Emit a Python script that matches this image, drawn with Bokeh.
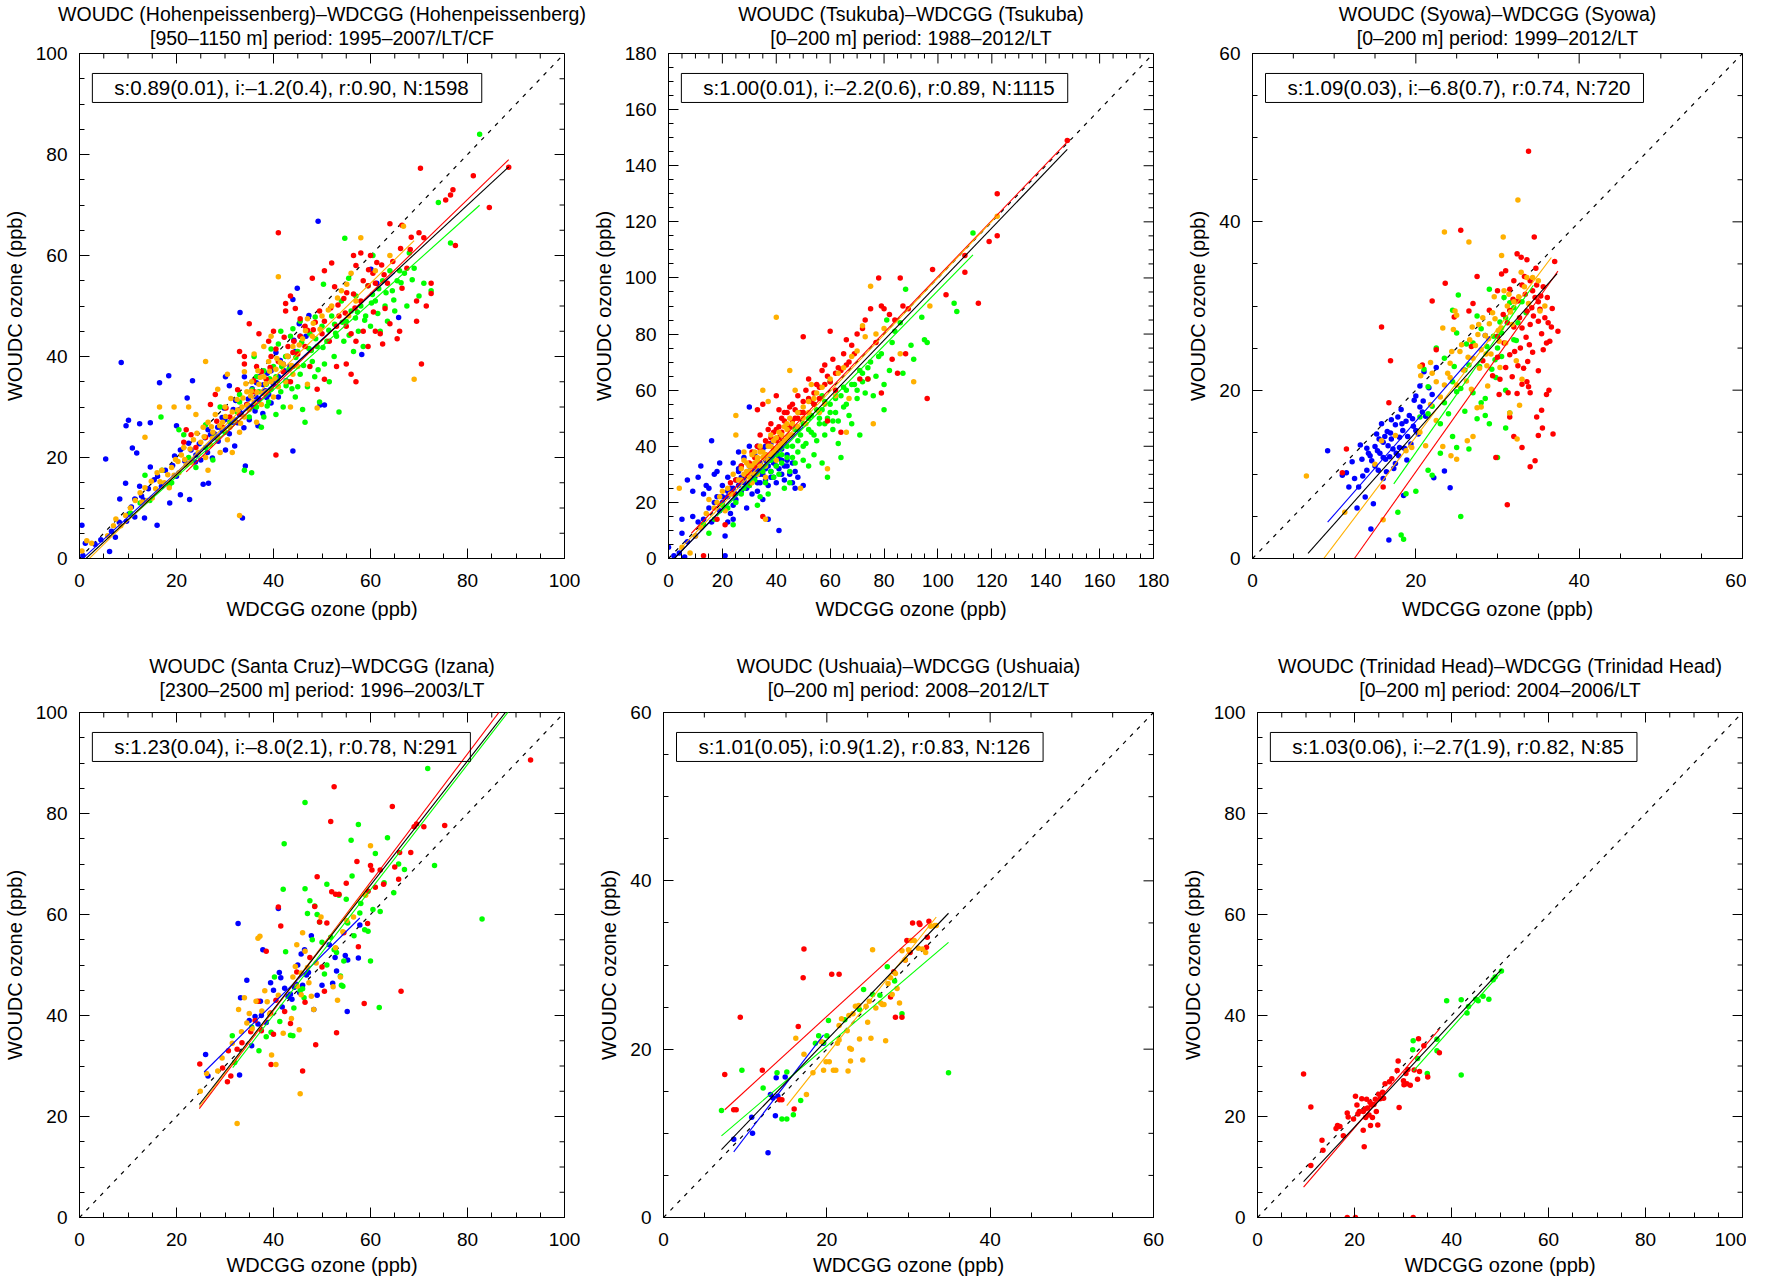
from bokeh.plotting import figure
from bokeh.models import LinearAxis, SingleIntervalTicker, Range1d, Label, Title
from bokeh.layouts import column, row
from bokeh.embed import file_html
from bokeh.resources import INLINE

FONT = "Liberation Sans"
SEASON_COLORS = ["#0000FF", "#00FF00", "#FF0000", "#FFB000"]  # DJF, MAM, JJA, SON

# ---------------- Panel 1: Hohenpeissenberg ----------------
HOH_TITLE = ["WOUDC (Hohenpeissenberg)–WDCGG (Hohenpeissenberg)", "[950–1150 m] period: 1995–2007/LT/CF"]
HOH_STATS = "s:0.89(0.01), i:–1.2(0.4), r:0.90, N:1598"
HOH_LIM = 100
HOH_DJF = [(0.5,6.6),(0.7,0.6),(1.2,3),(5.4,19.7),(8.6,38.8),(10.1,27.4),(9.6,26.3),(12.4,26.7),(14.6,26.9),(10.9,21.9),
           (11.8,20.9),(16.5,34.8),(18.4,36.2),(22.2,31.8),(23.3,35.2),(20,26.3),(33.1,48.7),(49.2,66.8),(44.9,53.5),(44,51.3),
           (33.6,8),(34.2,18.3),(44,21.3),(16,6.6),(6.2,1.4),(7.4,4.2),(9.7,7.4),(11.4,8.2),(13.4,8),(9.5,14.9),
           (8.3,11.8),(12.4,14.3),(14.6,18.1),(18.6,11),(20.8,12.6),(22.7,11.7),(25.5,14.7),(26.6,14.9),(23.9,19.1),(23,21.5),
           (27.4,19.9),(30.1,21.5),(32,22.3),(30.9,24.7),(33.9,25.9),(36.8,26.3),(37.8,28.7),(38.3,33.2),(39.5,37.2),(40.5,40.8),
           (42.2,37.2),(43.4,38),(44.2,43.2),(45.3,46.5),(47.3,48.1),(46.7,44),(49.6,30.4),(50.5,30.4),(58.2,40.4),(60.1,57.3),
           (61.3,54.5),(65.8,47.7),(36.4,32),(34.8,31.6),(39.5,30.8),(41,32),(33.3,28.7),(31.7,29.5),(29.4,27.9),(29.4,25.5),
           (27.8,24.7),(25.9,23.9),(24.7,22.7),(20.8,21.5),(17.7,17.5),(16.1,16.3),(20,16.3),(14.2,13.8),(11.4,11.8),(10.7,10.2),
           (16.9,14.3),(37.9,34.4),(38.7,36.7),(42.6,35.2),(41.4,39.2),(37.1,36),(35.6,33.6),(34,36),(30.1,36),(30.9,34.2),
           (35.2,30.1),(36.2,29.2),(38.6,31.9),(40.2,35.3),(32.6,26.9),(28.6,23.2),(26.4,21),(21.7,19.3),(19.2,18.4),(13.2,11.6),
           (24,20.5),(25,19.5),(27,24.5),(28.5,26),(30,27.5),(31.5,27),(33,29.5),(34.5,30.5),(35,27.5),(36,30),
           (37,31.5),(38,33),(39,32.5),(40,34.5),(41,36),(42,38.5),(43,40),(44.5,41),(45.5,44),(36.5,34.8),
           (32.2,31.3),(29.8,29.8),(26.5,25.5),(22.5,22.8),(19.6,20.3),(17.2,14.8),(15.4,15.6),(12.8,12.4),(10.2,8.8),(8.2,7.2),
           (6.6,5.4),(4.4,3.7),(3.2,2.8)]
HOH_MAM = [(16.8,28),(20.5,25.5),(21.5,24.5),(13.5,16.5),(17,17.5),(12.5,11),(10.5,9),(14.5,11.5),(18.5,14.5),(22.5,20),
           (26,22),(28,24),(30,25),(31,27),(32.5,29),(33,31),(34,17.5),(35.5,17),(36.5,30),(37,33),
           (38,28),(38.5,34.5),(39,31),(40,38),(40.5,36),(41,42.5),(41.5,33),(42,30),(42.5,40),(43,35),
           (43.5,44),(44,38),(44.5,32),(45,41),(45.5,36.5),(46,29.5),(46.5,27),(47,34),(47.5,44.5),(48,39),
           (48.5,36),(49,42),(49.5,31),(50,46),(50.5,38.5),(51,43),(51.5,35),(52,48),(52.5,40),(53,44),
           (53.5,29),(54,51),(54.5,43),(55,47),(55.5,55.5),(56,49),(56.5,41),(57,52),(57.5,45),(58,50),
           (58.5,42),(59,48),(59.5,54),(60,46),(60.5,60),(61,51),(61.5,48.5),(62,45),(62.5,55),(63,50),
           (63.5,47),(64,57),(64.5,53),(65,49),(65.5,55),(66,57),(67,56.5),(67.5,50),(68,60.5),(69,57.5),
           (70,52),(71,54.5),(72.5,53),(74,70.5),(76.5,62.5),(82.5,84),(54.7,63.4),(50.3,54.3),(45.5,47),(44,45.5),
           (41.5,45),(39.5,41.5),(36,40),(33,32.5),(29,30),(26,26.5),(27.5,19.5),(19,15),(24,18),(35,28),
           (37.5,26),(40.5,28.5),(45,34),(47.8,41.2),(52.6,46.4),(56.9,47.6),(60.4,52.3),(49.2,37.4),(43.8,33.6),(39.2,35.6),
           (36.5,36),(38,37.2),(39.5,33.5),(40.8,35.2),(41.7,38),(43.2,37.5),(44.6,39.8),(46.2,38.2),(47.3,41.6),(48.7,43.5),
           (50.2,41.8),(51.4,45.2),(52.8,44.6),(54.2,46.8),(55.6,44.2),(57.3,48.8),(58.8,47.2),(60.2,50.6),(61.7,53.4),(63.2,52.6),
           (64.8,51.2),(66.3,54.6),(68.6,55.2),(45.8,42.8),(42.6,34.2),(38.7,30.2),(35.6,33.4),(48.6,47.8)]
HOH_JJA = [(70.3,77.3),(81.2,75.8),(77,73),(76.5,72),(75.5,71),(84.5,69.5),(77.5,62),(71,63.5),(70,64.5),(66.5,66),
           (64,66.3),(60,60),(58,60.5),(56.5,60),(57,58),(60.5,56.5),(61,54.5),(59.5,54),(63.5,54.5),(66.5,53.5),
           (67.5,57.5),(69.5,51),(72.5,52.5),(72.5,54.5),(66,45),(69.5,47),(71.5,50),(70.5,38.5),(52,58.5),(50.5,57),
           (48,55.5),(43.5,52),(42.5,50.5),(44.5,49.5),(46.5,46),(50.5,47),(51.5,43),(53,46),(53.5,48),(55,46),
           (56,44.5),(57,43),(58.5,45),(59.5,42),(61,45),(62.5,42.5),(63,49.5),(64,46.5),(65.5,43.5),(62,44.5),
           (56,36.5),(57,35),(55,38.5),(53,38),(50.5,35.5),(49,33.5),(46.5,42),(45,40.5),(43,42),(41,39),
           (40,45),(39,43),(37,44.5),(35,46.5),(33,41),(34,40),(36.5,38),(38.5,35.5),(36,33),(34.5,30.5),
           (33,28.5),(31,28),(29.5,26),(28,32.5),(27,30.5),(26,24),(24,22),(23,24.5),(21.5,23),(22,25.5),
           (41,64.5),(42.5,49),(40.5,20.5),(34,38.5),(37.5,37),(39.5,40),(42,37),(44,40.8),(47.5,38),(49.5,49),
           (54.5,51.5),(58.5,55),(45.5,44),(40.5,41.5),(43.5,35),(88.5,77.5),(68.2,61.2),(62.3,58.1),(55.1,52.6),(48.2,45.3),
           (45.5,47.5),(47,45.2),(48.6,46.8),(50,44.5),(51.8,49.6),(53.3,50.2),(54.8,48.6),(56.5,52.4),(58,51),(59.6,57.2),
           (61.3,58.6),(62.8,56.2),(64.6,58.8),(66.2,61.4),(68.4,63.6),(42.2,43.8),(44.2,43),(39.3,37.8),(35.9,35.2),(32.6,33.4),
           (30.2,29.8),(28.3,27.2),(52.6,53.8),(56.8,49.6),(60.6,48.8)]
HOH_SON = [(0.5,1.5),(1.5,3.5),(2.5,3),(5.8,4.5),(7,6.5),(7.5,7.8),(8.5,6.5),(9.5,8.5),(10.5,10),(11.5,11.5),
           (12.5,13),(13.5,14),(14,11.5),(15,12),(16,17),(17,17.5),(17.5,15),(18.5,14),(19,18),(19.5,16.5),
           (20.5,17),(21,20.5),(21.5,22),(22,18.5),(23,19),(23.5,23.5),(24.5,21),(25,23),(25.5,26),(26,20),
           (26.5,27),(27,22.5),(27.5,25),(28,28.5),(28.5,24),(29,21),(29.5,27),(30,30),(30.5,23.5),(31,26),
           (31.5,29),(32,27.5),(32.5,31.5),(33,25),(33.5,30),(34,28),(34.5,33),(35,29.5),(35.5,35),(36,31),
           (36.5,27),(37,34.5),(37.5,30.5),(38,36),(38.5,33),(39,39),(39.5,35),(40,32),(40.5,37.5),(41,34),
           (42,38.5),(42.5,35),(43,40),(44,42),(45,38),(46,43.5),(47,47.5),(48,44),(50,48),(52,50),
           (54,53),(56,56.5),(58,63.5),(41,55.8),(26,39),(16.5,30),(19.5,30),(13.5,24),(33,8.5),(55.5,48),
           (57,51),(61,57),(64,60),(66.8,65.8),(69,35.5),(47,34.5),(44,36.5),(38,42),(34,37),(30.5,36.5),
           (28.5,33.5),(24,28.5),(22.5,30),(36,40.5),(39.5,44),(49,29.8),(43.5,30),(31.5,21),(26.5,17.5),(33.2,26.8),
           (35.3,32.2),(37.8,32.7),(29.8,25.6),(27.2,26.1),(24.2,24.8),(31.2,31.7),(34.3,34.6),(36.8,37.2),(40.7,39.6),(20.3,19.2),
           (25.7,24.1),(27.4,23.8),(28.9,26.3),(30.1,28.1),(31.7,27.3),(32.6,29.4),(33.7,31.8),(34.6,30.3),(35.4,33.1),(36.6,32.9),
           (37.3,35.9),(38.4,34.6),(39.2,37.1),(40.3,35.6),(41.4,38.8),(42.8,40.1),(43.7,38.2),(45.3,42.3),(46.6,45.1),(48.2,46.6),
           (49.6,45.4),(51.3,49.2),(53.2,51.6),(55.1,54.3),(22.8,21.7),(21.7,19.6),(19.8,19.6),(18.2,16.6),(16.6,15.2),(15.7,13.8),
           (14.8,15.3),(12.9,11.2)]
# fitted lines per season (slope, intercept, x start, x end); last is all data (black)
HOH_FITS = [(0.88,-0.6,0.7,65),(0.86,-1.0,10,82.5),(0.93,-3.3,22,88.5),(0.94,-1.9,2,69),(0.89,-1.2,1.3,88.5)]

# ---------------- Panel 2: Tsukuba ----------------
TSU_TITLE = ["WOUDC (Tsukuba)–WDCGG (Tsukuba)", "[0–200 m] period: 1988–2012/LT"]
TSU_STATS = "s:1.00(0.01), i:–2.2(0.6), r:0.89, N:1115"
TSU_LIM = 180
TSU_DJF = [(0,4),(2,1),(4,2),(5,9),(5,14),(6,0.5),(7,6),(7,28),(9,15),(9,24),(10,8),(11,13),(11,29),(12,33),(13,14),
           (13,23),(14,26),(15,18),(15,25),(16,13),(16,42),(17,30),(17,20),(18,31),(19,17),(19,34),(20,20),(20,26),(21,8),
           (21,1),(22,22),(22,29),(23,16),(23,25),(24,19),(24,34),(25,28),(25,21),(26,31),(26,38),(27,24),(27,33),(28,28),
           (28,36),(29,30),(29,18),(30,26),(30,40),(30,54),(31,23),(31,33),(32,29),(32,37),(33,27),(33,24),(34,34),(34,30),
           (35,21),(35,39),(36,28),(36,32),(37,26),(37,14),(38,31),(38,36),(39,29),(39,34),(40,27),(40,38),(41,32),(41,10),
           (42,30),(42,35),(43,28),(44,33),(45,30),(46,34),(47,25),(47,31),(48,29),(50,26),(46,27),(44,37),(43,42),(38,41),
           (36,40),(33,40),(26,32),(22,13),(24,14),
           (20,22),(22,24),(24,25),(26,26),(28,27),(29,25),(31,29),(32,31),(33,32),(34,27),(35,30),(36,35),(37,33),(38,29),
           (39,37),(40,33),(41,36),(42,39),(43,33),(44,35),(30,33),(27,29),(25,23),(18,22),(12,11)]
TSU_MAM = [(13,12),(15,9),(17,14),(20,19),(22,18),(24,12),(25,20),(27,23),(28,25),(30,26),(32,28),(33,19),(34,22),(35,31),
           (36,27),(37,23),(38,35),(39,29),(40,33),(41,30),(42,37),(43,25),(44,36),(45,31),(46,40),(47,34),(48,38),(49,44),
           (50,35),(50,48),(51,41),(52,33),(53,45),(54,37),(55,42),(55,53),(56,48),(57,34),(57,58),(58,44),(59,50),(59,29),
           (60,52),(61,46),(62,57),(63,49),(64,36),(65,54),(66,60),(67,51),(68,48),(69,62),(70,57),(71,44),(71,67),(72,66),
           (73,59),(74,64),(75,70),(76,58),(77,65),(78,72),(79,73),(80,62),(80,53),(81,85),(82,67),(83,77),(84,81),(86,84),
           (87,66),(88,96),(90,76),(91,71),(94,86),(95,78),(96,77),(106,91),(107,88),(113,116),(60,63),(58,56),(54,55),(52,50),
           (63,41),(45,27),(47,46),
           (36,33),(38,31),(40,37),(42,34),(44,40),(46,36),(48,42),(50,40),(52,46),(54,44),(56,50),(58,48),(60,55),(62,52),
           (64,58),(66,55),(68,62),(70,60),(72,63),(74,68),(48,46),(53,51),(57,53),(61,49),(65,61)]
TSU_JJA = [(13,1),(18,14),(21,12),(23,27),(24,23),(25,28),(27,33),(29,30),(30,31),(31,38),(32,36),(33,40),(33,53),(34,44),
           (35,15),(35,55),(36,42),(37,46),(38,48),(39,39),(40,46),(40,58),(41,43),(42,50),(43,49),(44,52),(45,47),(46,55),
           (47,50),(48,58),(49,52),(50,56),(50,79),(51,60),(52,64),(53,56),(54,59),(55,62),(56,57),(57,67),(58,69),(59,65),
           (60,81),(61,71),(62,60),(63,68),(64,45),(65,73),(66,78),(67,70),(68,76),(70,80),(71,64),(72,82),(73,85),(74,64),
           (75,89),(77,77),(78,100),(79,59),(79,90),(80,89),(82,87),(83,71),(84,85),(85,66),(86,100),(87,90),(88,73),(89,89),
           (96,57),(98,103),(103,94),(110,102),(110,108),(115,91),(119,113),(122,130),(122,115),(148,149),(59,49),(41,53),(30,27),
           (30,34),(32,33),(34,39),(36,37),(37,41),(38,43),(39,45),(40,42),(41,47),(42,45),(43,52),(44,47),(45,54),(46,49),
           (47,53),(48,50),(50,52),(52,57),(54,55),(56,61),(58,62),(60,63),(62,66),(64,67),(66,69),(69,73)]
TSU_SON = [(4,25),(5,4),(8,2),(10,8),(12,11),(14,16),(15,21),(17,18),(18,20),(19,22),(20,24),(21,17),(22,25),(23,23),
           (24,30),(25,51),(25,44),(26,28),(27,32),(28,35),(29,31),(30,33),(30,29),(31,37),(32,34),(33,30),(34,38),(35,36),
           (35,60),(36,33),(36,14),(37,56),(37,40),(38,37),(39,42),(40,39),(40,86),(41,45),(42,41),(43,47),(44,43),(45,50),
           (45,67),(46,44),(47,60),(48,52),(49,25),(50,54),(51,48),(52,56),(53,62),(55,59),(56,52),(57,61),(58,55),(59,32),
           (60,64),(62,58),(63,66),(65,68),(66,45),(67,57),(68,72),(70,74),(72,83),(73,79),(75,97),(76,48),(77,80),(80,82),
           (86,73),(91,63),(97,90),(122,122),(40,35),(38,44),(33,35),(44,48),(28,38),
           (27,28),(28,30),(29,34),(30,31),(31,33),(32,30),(32,38),(33,36),(34,33),(35,38),(36,37),(37,35),(38,40),(39,38),
           (40,43),(41,40),(42,44),(43,42),(44,46),(45,44),(46,48),(48,47),(50,50),(52,52),(54,57),(34,40),(36,29),(31,27)]
TSU_FITS = [(0.98,-2.0,0,50),(0.98,-2.5,18,113),(1.0,0.5,8.5,149),(1.01,-1.0,4,122),(1.00,-2.2,0,148)]

# ---------------- Panel 3: Syowa ----------------
SYO_TITLE = ["WOUDC (Syowa)–WDCGG (Syowa)", "[0–200 m] period: 1999–2012/LT"]
SYO_STATS = "s:1.09(0.03), i:–6.8(0.7), r:0.74, N:720"
SYO_LIM = 60
SYO_DJF = [(9.2,12.8),(11,9.9),(11.5,10.2),(11.8,8.5),(12.2,11.5),(12.5,9.5),(12.8,6),(13,8.5),(13.2,13.5),(13.5,9.8),
           (13.8,7.3),(14,13.1),(14.2,12.5),(14.5,3.5),(14.6,11.6),(14.8,6.5),(15,11),(15,13.3),(15.2,14.8),(15.4,10.5),
           (15.5,14.2),(15.6,12.5),(15.8,16),(16,13.8),(16,9.5),(16.2,14.5),(16.3,11.8),(16.5,15.1),(16.6,13.4),(16.7,2.2),
           (16.8,12.1),(17,14.2),(17,16.5),(17.2,13),(17.3,10.7),(17.5,15.9),(17.6,12.5),(17.8,16.8),(18,14.4),(18,13.2),
           (18.2,17.7),(18.4,15.2),(18.5,7.5),(18.6,13.1),(18.8,16.3),(19,14.5),(19.2,17),(19.4,13.6),(19.6,16.6),(19.8,18.8),
           (20,15.2),(20,19.3),(20.3,14.8),(20.5,18),(20.8,17.4),(21,22.2),(21.2,16.9),(22,19.5),(22.2,9.6),(23.5,10.4),
           (24.2,8.4),(16,12),(17.5,11.3),(14,10.5),(18.9,11.7),(22.5,22.7),(20.5,20.5),(28.5,26.5),
           (15.3,12.8),(16.9,14.9),(18.3,16),(19.7,15.7),(17.9,12.2),(16.4,10.3),(14.4,12.2),(13.4,11.8),(20.9,18.7),(21.6,20.3)]
SYO_MAM = [(18.2,2.8),(18.5,2.3),(18.8,7.7),(17.8,5.5),(20,8),(21.5,10.5),(22,9.9),(23,12.5),(24.5,14.5),(25,13.2),
           (25.5,5),(26.5,13),(20.5,16.8),(21.5,17.2),(22,18.1),(23,16),(23.5,18.5),(24,17.2),(24.5,21),(25,19.8),
           (25.5,20.2),(26,17.5),(26.5,23),(27,19.7),(27.5,16.6),(28,18.5),(28.5,19),(28.5,17),(29,16),(29.3,22.5),
           (29.8,21.5),(30,25),(30.5,24),(31,20),(31,15.5),(31.5,17.3),(32,29.8),(32,26),(32.5,28),(33,30.5),
           (31.5,30.4),(30.8,31),(30.5,26.8),(29,32),(27.5,28.8),(28,27.3),(25,26.8),(24.5,29.5),(25.2,31.3),(21.5,20.4),
           (22.5,25),(26,22.4),(27,25.6),(29.5,26.4),(31,28.6),(33.5,29.2),(30,12),(24.7,22.8),(23.5,23.8),(21,22.5),
           (26.2,25.5),(28.7,25.2),(30.3,28.1),(27.8,22.8),(29.7,23.6),(32.3,25.9)]
SYO_JJA = [(11.5,13),(11,10.2),(15.8,27.5),(16.9,23.5),(16.7,18.5),(16,8.5),(20.8,23),(22.5,24.8),(22,30.6),(23.6,32.7),
           (24.7,28.7),(25.5,39),(26.5,29.4),(27.5,33.5),(27,30.3),(26.8,25.2),(28.2,23.5),(29,29.5),(30,31.8),(30.5,33.8),
           (31,34.2),(31.5,32),(32,33),(32.4,36.2),(32.9,35.8),(33,32.5),(33.3,33.5),(33.6,35.5),(34,33),(34.3,31.8),
           (34.5,38.2),(34.8,32.5),(35,30.5),(35.3,31.2),(35.8,28.6),(36.2,28),(36.6,27.5),(37,35.3),(37.4,27),(33.8,48.4),
           (32.5,30.6),(31.5,29.5),(30,26.4),(30.7,29),(31.2,28),(32,27.5),(33,27.4),(33.6,29.4),(34.2,29.8),(34.6,31),
           (35.2,29.6),(35,28.2),(34,27.8),(33.5,26.3),(32.8,25),(32.1,24.6),(31.5,24.2),(30.8,25.6),(30,23.9),(29.4,21.7),
           (30.3,21.3),(31,22.7),(31.8,21.6),(32.5,22.9),(33.2,22.6),(33.7,23.4),(34.3,24.5),(35,22.3),(35.6,24.8),(36,25.6),
           (36.4,25.8),(33,20.7),(33.6,21),(32.4,19.6),(31.3,19.7),(30.2,19.5),(29.8,12),(31.5,16.8),(32,14.5),(33,13.2),
           (34,10.9),(34.6,11.6),(35,14.6),(35.4,17.6),(35.5,15.5),(36,19.5),(36.3,20),(36.8,14.8),(34,19.7),(31.2,6.4),
           (33.8,20.4),(34.8,16.8),
           (33.4,31.4),(34.7,34.5),(35.6,32.3),(36.1,31),(34.4,28.8),(32.7,28.6),(33.9,25.4),(35.4,26.7),(36.7,29.7),(31.9,30.8)]
SYO_SON = [(11.3,5.5),(6.6,9.8),(16,4.6),(15,11.2),(15.8,14),(17.5,14.6),(18.8,12.8),(19.5,13.2),(20.5,15),(21.2,13.4),
           (20.5,22.8),(21.8,23.3),(22.5,21),(23,19.2),(23.5,20.6),(23.9,22),(24.2,23.2),(24.6,27.2),(25,20.6),(25.4,24.6),
           (25.8,22.4),(26.2,21.1),(26.6,26),(27,23.8),(27.3,25.3),(27.7,27.8),(28,24.8),(28.5,26.5),(29,27.9),(29.2,24.3),
           (29.7,28.5),(30.2,25.8),(30.5,36),(30.8,31.8),(31.2,30),(31.6,29.3),(32,30.5),(32.5,42.6),(32.9,34),(33.3,32.3),
           (33.8,30.3),(34.3,33.4),(35,33),(35.8,30),(28,18),(27,14.5),(26.3,14),(25,11.8),(24.3,12.2),(23.3,13.3),
           (22.5,16.4),(27.5,17.9),(28.8,20.5),(30.3,22.7),(31.5,17.3),(32.7,18.2),(32.4,14.2),(33,21.3),(32.3,23.5),(31,25.6),
           (25,28.9),(24.8,29.4),(23.5,38.8),(26.5,37.6),(30.7,38.2),(28.7,22.9),(26.8,20.1),(21.8,18.3),(20.6,21.7),(22,22),
           (23.3,27.4),(29.6,31.1),(30.5,27.4),(28.6,24.3),(35.2,29.4),
           (24.4,24.6),(25.6,25.4),(26.4,23.9),(27.6,26.6),(28.2,28.6),(29.4,29.2),(30.1,27.1),(31.4,31.4),(32.6,31.1),(33.6,33.4),
           (26.9,27.5),(28.9,26.1),(24.2,21.5),(27.8,22.6),(31.8,27.8)]
SYO_FITS = [(1.11,-5.9,9.2,29.1),(1.38,-15.0,17.3,34.4),(1.37,-17.1,12.5,37.4),(1.283,-11.2,8.7,36.6),(1.09,-6.8,6.8,37.3)]

# ---------------- Panel 4: Santa Cruz / Izana ----------------
IZA_TITLE = ["WOUDC (Santa Cruz)–WDCGG (Izana)", "[2300–2500 m] period: 1996–2003/LT"]
IZA_STATS = "s:1.23(0.04), i:–8.0(2.1), r:0.78, N:291"
IZA_LIM = 100
IZA_DJF = [(26,32.3),(26.5,28),(33,28.2),(32.7,58.2),(33.2,43.5),(34.5,47),(35,39),(35.5,34),(36.2,39.8),(36.8,38.3),
           (37.3,42.8),(37.5,40),(37.8,53),(38.5,38.6),(39.4,46.5),(40,45),(41,61.2),(41.2,48.5),(41.5,47.5),(41.8,41.7),
           (42.3,45.4),(43,43.8),(43.5,44.2),(43.8,43.2),(44.3,45.6),(44.7,46.2),(45,50),(45.4,44.5),(45.7,52.2),(46,46),
           (46.4,53),(46.8,48),(47.2,48.5),(47.8,55.8),(48.3,41.2),(49,44),(50,46),(51.5,54),(52.2,46.4),(52.7,51.5),
           (53,48.8),(54.8,51.9),(55.2,40.8),(55.3,51),(57.5,51.4),(57.8,57.9)]
IZA_MAM = [(31.5,36),(32,30.7),(35.5,37.7),(37,33),(38.5,35.8),(39.5,36.7),(40.2,47.6),(41.3,38.8),(42,65),(42.2,74),
           (42.5,52.6),(43.5,36.1),(44,36),(45.5,45),(46,45.3),(46.5,82.2),(46.5,65.1),(47,60.2),(47.5,62.7),(48,55),
           (48.5,61.7),(49,60),(49.5,58.5),(50,54.5),(50.5,48.2),(51,50),(51,66),(51.8,55.5),(52.5,53),(53,52.5),
           (53.5,63.8),(54,46),(54.3,45.8),(54.5,50.8),(55,63),(55.3,58.3),(56,74.7),(56.2,67.6),(56.6,55.8),(57.5,77.8),
           (57.8,60.3),(58,62.2),(58.8,57),(59.5,56.7),(60,50.8),(60.5,61),(61,72.1),(61.8,41.6),(62,60.6),(62.8,66.3),
           (63.5,75.2),(64.8,64.3),(65.8,70),(67,68.9),(71.8,88.9),(73.2,69.7),(83,59.1),(44.2,41.5),(46.3,43.5),(53.8,47.8)]
IZA_JJA = [(24.8,30.4),(29.5,29.6),(30.5,26.9),(30.7,33),(31.2,28),(32.5,33.3),(33.5,34.6),(35.3,36.8),(36.2,39),(36.8,42.8),
           (37.5,37),(38.5,52.7),(39.4,40.5),(39.5,30.3),(40,36.3),(40.5,43),(41,61.5),(41.5,57.7),(42.3,40.8),(43.5,38.4),
           (44.8,48.6),(46,29),(46.5,42.6),(47.5,51.5),(48.5,61.6),(49,67.5),(49.5,58.5),(48.7,34.2),(50,49.6),(50.5,44.8),
           (51,58.3),(51.8,78.4),(52,64.5),(52.8,64),(53.5,64),(52.5,85.3),(53,36.6),(54.5,56.4),(55,66.2),(57.2,70.5),
           (57.5,53.6),(58.7,42.4),(59.4,58.2),(59.5,64.6),(60,69.7),(60.3,68.8),(61,65.4),(62,68.8),(62.7,66),(64.5,81.4),
           (65,69.4),(65.8,67),(66,72.3),(66.3,44.8),(68.3,72.3),(69,77.4),(69.5,77.9),(71,77.4),(75.3,77.6),(93,90.6)]
IZA_SON = [(24.9,25),(26.2,28.5),(28.5,29),(29.4,31.6),(31.5,34.5),(32.5,18.6),(32.8,41.2),(33.4,36.8),(34,43.5),(34.5,38.5),
           (35,40.4),(35.6,37.4),(36.4,42.8),(36.8,55.3),(37.2,55.7),(37.6,40.9),(38.2,44.9),(38.7,42.7),(39.2,40.3),(39.6,32.2),
           (40.5,30.3),(41,44),(42,36.5),(43.7,39.4),(44,47.6),(44.5,49.7),(44.8,54),(45.3,37.2),(45.5,24.5),(45.7,44.1),
           (46,56.4),(46.5,52.7),(47,49.5),(47.3,46.5),(47.8,43.8),(48.3,41.2),(48.8,50.4),(49.8,59.5),(52.3,45.7),(52.8,53.4),
           (53.2,43),(53.8,47.6),(54.3,56.6),(55.1,58.8),(56.5,59.5),(59,63.8),(60,73.6),(45.7,48.4),(44.9,45.8)]
IZA_FITS = [(0.95,4.4,25.7,57.8),(1.24,-9.5,31.6,92),(1.27,-9.8,24.7,92),(1.25,-8.9,24.7,59.6),(1.23,-8.0,24.7,92)]

# ---------------- Panel 5: Ushuaia ----------------
USH_TITLE = ["WOUDC (Ushuaia)–WDCGG (Ushuaia)", "[0–200 m] period: 2008–2012/LT"]
USH_STATS = "s:1.01(0.05), i:0.9(1.2), r:0.83, N:126"
USH_LIM = 60
USH_DJF = [(8.6,9.3),(10.8,11.9),(10.9,10),(12.8,7.7),(13.1,14.6),(13.4,14.2),(13.7,12.1),(13.8,16.6),(14,14.4),(14.9,16.7),
           (19.6,20.7)]
USH_MAM = [(7.1,12.7),(9.6,17.5),(12.2,15.4),(13.9,17.2),(14.5,11.7),(15.1,11.7),(15.1,17.3),(15.9,12.2),(16.8,13.9),(18.6,20.7),
           (19,21.6),(20,21.6),(20.2,23.4),(22.2,23.5),(24,24.7),(24.5,27.1),(25.6,26.5),(26.5,26.4),(27.4,29.8),(28.3,28.1),
           (29.2,24.2),(34.9,17.2),(19.6,20.8)]
USH_JJA = [(7.5,17),(8.6,12.8),(8.9,12.8),(9.4,23.8),(12.1,17.5),(14.2,14),(14.5,14),(16,12.9),(16.5,22.7),(17.1,28.5),
           (17.2,31.9),(20.6,28.9),(21.5,28.9),(27.8,26.2),(28.2,29.2),(28.4,23.8),(29.2,23.8),(29.6,30.6),(29.8,32.9),(30.2,31.5),
           (30.5,35),(31.3,35),(31.4,34.8),(32.2,32.1),(32.3,33.3),(32.5,35.2)]
USH_SON = [(16.2,21.3),(17.2,19.4),(17.5,14.6),(18.3,17.2),(19.3,20.9),(19.6,17.5),(19.9,18.5),(20.3,18.5),(20.8,17.5),(21.1,17.5),
           (21.3,20.7),(21.5,21.1),(21.5,22.8),(21.8,23.6),(22.5,22.2),(22.6,17.4),(22.7,24),(22.8,20.1),(22.9,18.6),(23,20),
           (23.2,24.2),(23.5,25.1),(23.9,25.2),(24,21.2),(24.4,18.7),(24.8,25.1),(25,23.2),(25.2,25.7),(25.4,21.3),(25.6,31.8),
           (26,24.9),(26.6,25.5),(26.8,25.3),(27.2,21),(27.5,27.8),(27.8,28.5),(28,26.5),(28.4,29),(28.6,27.2),(29.2,31.7),
           (29.6,30.6),(30,31.8),(30.3,32.9),(30.7,32.9),(31.2,32),(31.7,31.9),(32.1,31.5),(32.7,34.6),(33.2,34.7),(33.4,34.7),
           (28.9,25.5),(27,25.3)]
USH_FITS = [(1.264,-3.07,8.6,19.6),(0.827,3.83,7.1,34.9),(0.888,6.14,7.5,32.4),(1.224,-5.18,15.1,33.4),(1.01,0.9,7.1,34.9)]

# ---------------- Panel 6: Trinidad Head ----------------
TRH_TITLE = ["WOUDC (Trinidad Head)–WDCGG (Trinidad Head)", "[0–200 m] period: 2004–2006/LT"]
TRH_STATS = "s:1.03(0.06), i:–2.7(1.9), r:0.82, N:85"
TRH_LIM = 100
TRH_DJF = []
TRH_MAM = [(32.1,35),(32,33.2),(33,31.5),(35,28.5),(37,35.3),(37,33),(39,42.9),(42,43.1),(42,28.2),(43.2,40.5),
           (43.5,41.8),(45,43.2),(45.5,42.9),(46.5,43.8),(47.7,43.2),(48.6,47.1),(49,47.6),(50.3,48.8)]
TRH_JJA = [(9.5,28.4),(11,21.9),(11,10.3),(13.3,15.3),(13.5,13.3),(16.2,17.6),(16.5,18.2),(17,18),(17.7,16.2),(18.5,20.7),
           (18.7,19.9),(19.8,19.5),(20.2,24),(20.5,22.3),(20.7,20.5),(21,21),(21.5,23.5),(21.8,17.3),(21.8,21),(22,14),
           (22.2,21.5),(22.3,19.8),(22.5,23.4),(22.7,21.7),(23,20.3),(23.2,22.8),(23.3,18.2),(23.5,22.3),(23.7,19.8),(24,22.4),
           (24.3,23.4),(24.5,21),(24.8,18.3),(25,24.4),(25.3,23.5),(25.8,24.8),(26,23.6),(26.3,26.5),(27.2,26.9),(27.7,27.5),
           (28.8,29.1),(29,31),(29.2,21.8),(30.1,27.1),(30.2,26.3),(30.6,28.5),(30.8,26.5),(31,29.3),(31.5,26.2),(32.3,29.2),
           (33,27.4),(33.2,35.4),(33.4,28.9),(34.3,34),(35.1,27.8),(37.5,32.6),(18.5,0),(20.2,0),(32.1,0)]
TRH_SON = []
TRH_FITS = [None,(1.077,-5.57,32.1,50.3),(1.118,-4.62,9.5,37.5),None,(1.03,-2.7,9.5,50.3)]

PANELS = [
    (HOH_TITLE, HOH_STATS, HOH_LIM, [HOH_DJF, HOH_MAM, HOH_JJA, HOH_SON], HOH_FITS),
    (TSU_TITLE, TSU_STATS, TSU_LIM, [TSU_DJF, TSU_MAM, TSU_JJA, TSU_SON], TSU_FITS),
    (SYO_TITLE, SYO_STATS, SYO_LIM, [SYO_DJF, SYO_MAM, SYO_JJA, SYO_SON], SYO_FITS),
    (IZA_TITLE, IZA_STATS, IZA_LIM, [IZA_DJF, IZA_MAM, IZA_JJA, IZA_SON], IZA_FITS),
    (USH_TITLE, USH_STATS, USH_LIM, [USH_DJF, USH_MAM, USH_JJA, USH_SON], USH_FITS),
    (TRH_TITLE, TRH_STATS, TRH_LIM, [TRH_DJF, TRH_MAM, TRH_JJA, TRH_SON], TRH_FITS),
]

FW, FH = 490, 506
LB = 74
MAJOR_LEN, MINOR_LEN = 10, 5


def style_title(t, pad_bottom):
    t.align = "center"
    t.text_font = FONT
    t.text_font_size = "19.5px"
    t.text_font_style = "normal"
    t.text_color = "black"
    t.standoff = 0
    t.padding = dict(left=0, right=0, top=0, bottom=pad_bottom)
    return t


def make_panel(idx, title, stats, lim, seasons, fits):
    col = idx % 3
    rowi = idx // 3
    rb = 25 if col < 2 else 4
    tb = 52 if rowi == 0 else 59
    bb = 94 if rowi == 0 else 64
    sub_pad = 5 if rowi == 0 else 12
    p = figure(width=LB + FW + rb, height=tb + FH + bb,
               x_range=Range1d(0, lim), y_range=Range1d(0, lim),
               x_axis_type=None, y_axis_type=None,
               output_backend="svg", toolbar_location=None,
               min_border_left=LB, min_border_right=rb,
               min_border_top=tb, min_border_bottom=bb,
               title=None)
    p.grid.visible = False
    p.outline_line_color = "black"
    p.outline_line_width = 1
    p.background_fill_color = "white"
    p.border_fill_color = "white"

    for loc in ("below", "left"):
        ax = LinearAxis(ticker=SingleIntervalTicker(interval=20, num_minor_ticks=4))
        ax.major_tick_in = MAJOR_LEN
        ax.major_tick_out = 0
        ax.minor_tick_in = MINOR_LEN
        ax.minor_tick_out = 0
        ax.axis_line_color = "black"
        ax.major_tick_line_color = "black"
        ax.minor_tick_line_color = "black"
        ax.major_label_text_font = FONT
        ax.major_label_text_color = "black"
        ax.major_label_text_font_size = "19px"
        ax.axis_label_text_font = FONT
        ax.axis_label_text_font_style = "normal"
        ax.axis_label_text_color = "black"
        ax.axis_label_text_font_size = "20px"
        if loc == "below":
            ax.axis_label = "WDCGG ozone (ppb)"
            ax.major_label_standoff = 15
            ax.axis_label_standoff = 8 if rowi == 0 else 5
        else:
            ax.axis_label = "WOUDC ozone (ppb)"
            ax.major_label_standoff = 12
            ax.axis_label_standoff = 7
        p.add_layout(ax, loc)

    # inward ticks on the top and right edges of the box (IDL style)
    tick_vals = list(range(0, lim + 1, 5))
    tlen = [MAJOR_LEN if v % 20 == 0 else MINOR_LEN for v in tick_vals]
    p.segment(x0=tick_vals, y0=[lim] * len(tick_vals), x1=tick_vals,
              y1=[lim - L * lim / FH for L in tlen], line_color="black", line_width=1)
    p.segment(x0=[lim] * len(tick_vals), y0=tick_vals,
              x1=[lim - L * lim / FW for L in tlen], y1=tick_vals, line_color="black", line_width=1)

    # 1:1 reference line
    p.line([0, lim], [0, lim], line_color="black", line_width=1.2, line_dash="4 6")

    for pts, c in zip(seasons, SEASON_COLORS):
        if pts:
            p.scatter([q[0] for q in pts], [q[1] for q in pts], size=5.5, fill_color=c, line_color=None)

    line_colors = SEASON_COLORS + ["black"]
    for f, c in zip(fits, line_colors):
        if f is None:
            continue
        s, i, x0, x1 = f
        p.line([x0, x1], [s * x0 + i, s * x1 + i], line_color=c, line_width=1.1)

    lab = Label(x=lim * 13.0 / FW, y=lim * (1 - 20.0 / FH), text=stats,
                anchor="top_left",
                text_font=FONT, text_font_size="20.5px", text_color="black",
                border_line_color="black", border_line_width=1,
                padding=dict(left=22, right=13, top=3, bottom=3))
    p.add_layout(lab)

    # two-line title: sub line first (nearest frame), then main line
    p.add_layout(style_title(Title(text=title[1]), sub_pad), "above")
    p.add_layout(style_title(Title(text=title[0]), 0), "above")
    return p


figs = [make_panel(k, *PANELS[k]) for k in range(6)]
layout = column(row(*figs[:3]), row(*figs[3:]))
open("out.html", "w").write(file_html(layout, INLINE))
